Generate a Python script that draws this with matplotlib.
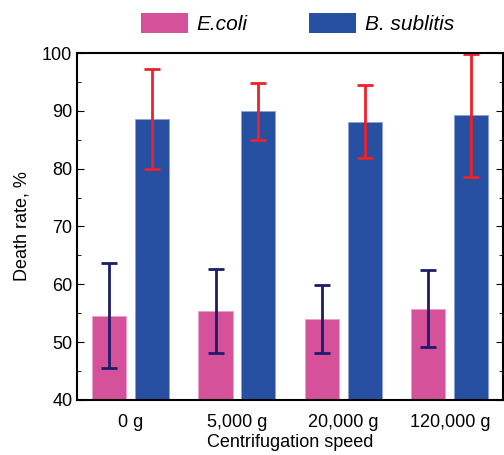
import numpy as np
import matplotlib.pyplot as plt
from matplotlib.patches import Patch
from matplotlib.ticker import MultipleLocator

plt.rcParams['font.family'] = ['Liberation Sans', 'DejaVu Sans']

speeds = ['0 g', '5,000 g', '20,000 g', '120,000 g']
ecoli = [54.5, 55.4, 54.0, 55.8]
ecoli_lo = [45.5, 48.1, 48.1, 49.1]
ecoli_hi = [63.6, 62.7, 59.8, 62.5]
bsub = [88.6, 90.0, 88.1, 89.2]
bsub_lo = [80.0, 85.0, 81.8, 78.6]
bsub_hi = [97.2, 94.8, 94.5, 99.9]

pink = '#d5529b'
blue = '#2750a2'

fig = plt.figure(figsize=(5.04, 4.55), dpi=100)
ax = fig.add_axes([0.153, 0.121, 0.845, 0.7625])

x = np.arange(len(speeds))
w = 0.32
off = 0.2

e_err = [np.array(ecoli) - np.array(ecoli_lo), np.array(ecoli_hi) - np.array(ecoli)]
b_err = [np.array(bsub) - np.array(bsub_lo), np.array(bsub_hi) - np.array(bsub)]

ax.bar(x - off, ecoli, w, color=pink, edgecolor='#e9a0c8', linewidth=0.6,
       yerr=e_err, error_kw=dict(ecolor='#1c1c6b', elinewidth=2, capsize=6, capthick=2))
ax.bar(x + off, bsub, w, color=blue, edgecolor='#8aa0d0', linewidth=0.6,
       yerr=b_err, error_kw=dict(ecolor='#ee2029', elinewidth=2, capsize=6, capthick=2))

ax.set_xlim(-0.5, 3.5)
ax.set_ylim(40, 100)
ax.set_xticks(x)
ax.set_xticklabels(speeds, fontsize=13)
ax.yaxis.set_major_locator(MultipleLocator(10))
ax.yaxis.set_minor_locator(MultipleLocator(5))
ax.tick_params(axis='y', which='both', direction='in', right=True, labelsize=13, length=5)
ax.tick_params(axis='y', which='minor', length=3)
ax.tick_params(axis='x', length=0, pad=10)
for s in ax.spines.values():
    s.set_linewidth(1.5)

ax.set_ylabel('Death rate, %', fontsize=13, labelpad=8)
ax.set_xlabel('Centrifugation speed', fontsize=13, labelpad=2)

handles = [Patch(facecolor=pink, label='E.coli'), Patch(facecolor=blue, label='B. sublitis')]
leg = fig.legend(handles=handles, loc='upper center', bbox_to_anchor=(0.59, 1.013), ncol=2,
                 frameon=False, prop={'style': 'italic', 'size': 15},
                 handlelength=2.25, handleheight=1.1, handletextpad=0.4, columnspacing=3.0)

plt.savefig('out.png', dpi=100)
